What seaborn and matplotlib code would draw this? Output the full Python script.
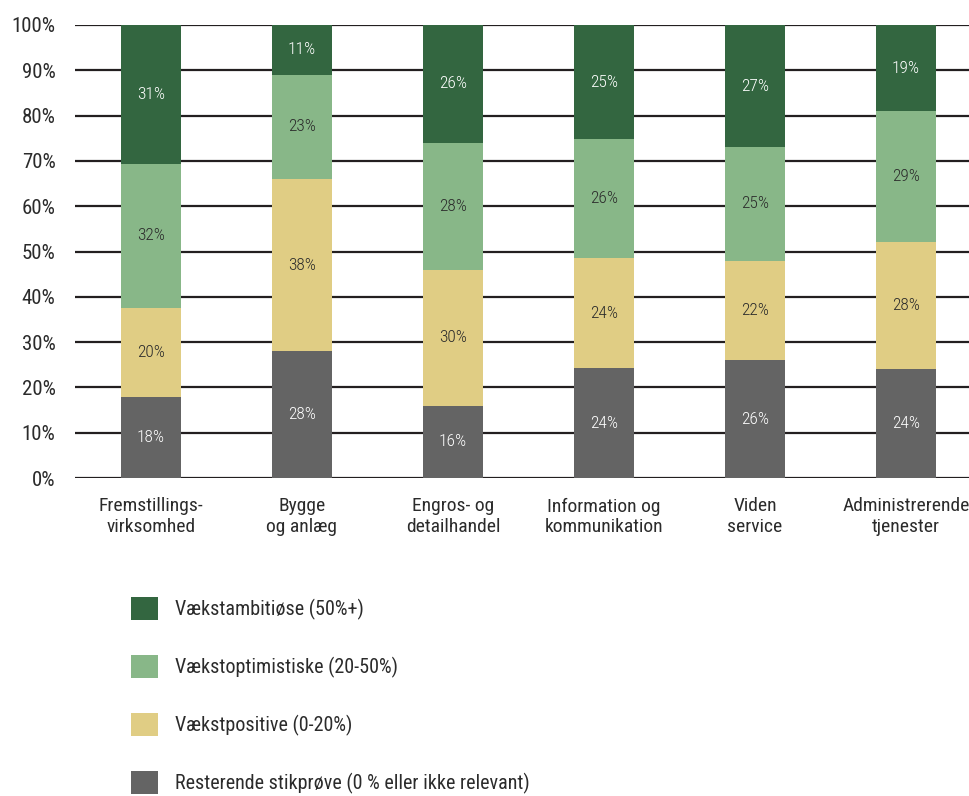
import matplotlib
matplotlib.use("Agg")
import matplotlib.pyplot as plt
import matplotlib.patches as mpatches
import seaborn as sns
import numpy as np
from matplotlib import font_manager

categories = ["Fremstillings-\nvirksomhed", "Bygge\nog anlæg", "Engros- og\ndetailhandel",
              "Information og\nkommunikation", "Viden\nservice", "Administrerende\ntjenester"]
series_names = ["Resterende stikprøve (0 % eller ikke relevant)", "Vækstpositive (0-20%)",
                "Vækstoptimistiske (20-50%)", "Vækstambitiøse (50%+)"]
resterende = [18, 28, 16, 24, 26, 24]
positive = [20, 38, 30, 24, 22, 28]
optimistiske = [32, 23, 28, 26, 25, 29]
ambitiose = [31, 11, 26, 25, 27, 19]
yticks = [0, 10, 20, 30, 40, 50, 60, 70, 80, 90, 100]

colors = ["#646464", "#e0cd84", "#88b788", "#336640"]
text_colors = ["white", "#2b2b2b", "#2b2b2b", "white"]

sns.set_theme(style="white")
avail = {f.name for f in font_manager.fontManager.ttflist}
fam = [f for f in ["Liberation Sans Narrow", "Roboto Condensed", "Open Sans Condensed", "Liberation Sans"] if f in avail]
plt.rcParams["font.family"] = fam + ["DejaVu Sans"]

raw = np.array([resterende, positive, optimistiske, ambitiose], dtype=float)
share = raw / raw.sum(axis=0) * 100
cum = np.cumsum(share, axis=0)

W, H = 970, 796
fig = plt.figure(figsize=(W / 100, H / 100), dpi=100)
ax = fig.add_axes([75 / W, 1 - 478 / H, (970 - 75) / W, (478 - 25) / H])

for k in range(3, -1, -1):
    sns.barplot(x=categories, y=cum[k], color=colors[k], saturation=1, width=0.4,
                linewidth=0, ax=ax, zorder=3)

for k in range(4):
    for i in range(len(categories)):
        bottom = cum[k][i] - share[k][i]
        ax.text(i, bottom + share[k][i] / 2, f"{int(raw[k][i])}%", ha="center", va="center",
                fontsize=12.5, fontweight="light", color=text_colors[k], zorder=5)

ax.set_xlim(-76 / 151, (970 - 151) / 151)
ax.set_ylim(0, 100)
ax.set_yticks(yticks)
ax.set_yticklabels([f"{t}%" for t in yticks])
ax.yaxis.grid(True, color="#231f20", linewidth=1.6)
ax.set_axisbelow(True)
for s in ax.spines.values():
    s.set_visible(False)
ax.tick_params(axis="y", length=0, pad=14, labelsize=15, labelcolor="#2b2b2b")
ax.tick_params(axis="x", length=0, pad=14, labelsize=14, labelcolor="#2b2b2b")
for lab in ax.get_xticklabels():
    lab.set_linespacing(1.2)
    lab.set_multialignment("center")
ax.set_xlabel("")
ax.set_ylabel("")

handles = [mpatches.Patch(facecolor=colors[k], edgecolor="none", label=series_names[k]) for k in range(3, -1, -1)]
fig.legend(handles=handles, loc="upper left", bbox_to_anchor=(113 / W, 1 - 579 / H), frameon=False,
           fontsize=14.5, handlelength=1.34, handleheight=1.34, handletextpad=0.85, labelspacing=1.76,
           labelcolor="#2b2b2b")

fig.savefig("out.png", dpi=100)
